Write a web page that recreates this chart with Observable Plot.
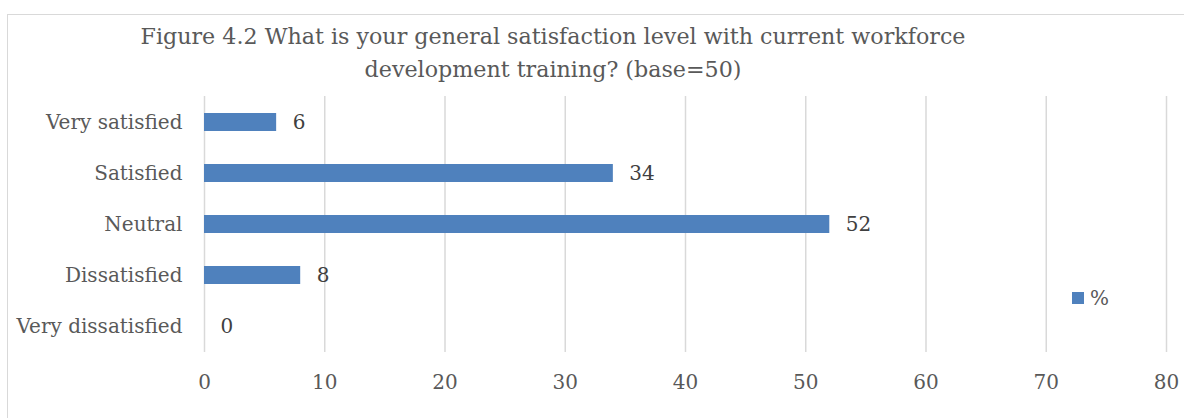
<!DOCTYPE html>
<html><head><meta charset="utf-8">
<script src="https://cdn.jsdelivr.net/npm/d3@7"></script>
<script src="https://cdn.jsdelivr.net/npm/@observablehq/plot@0.6"></script>
<style>
html,body{margin:0;padding:0;background:#fff;}
#wrap{position:relative;width:1184px;height:418px;overflow:hidden;font-family:"DejaVu Serif",serif;color:#595959;}
#frame{position:absolute;left:7px;top:14px;width:1190px;height:420px;border:1px solid #d9d9d9;box-sizing:border-box;}
#title{position:absolute;left:0;width:1106px;top:20px;text-align:center;font-size:22.2px;line-height:33px;color:#595959;}
#legend{position:absolute;left:1072px;top:286px;font-size:20px;color:#595959;display:flex;align-items:center;}
#legend span.sw{display:inline-block;width:12px;height:12px;background:#4F81BD;margin-right:6px;}
#chart{position:absolute;left:0;top:0;}
</style></head>
<body>
<div id="wrap">
<div id="frame"></div>
<div id="title">Figure 4.2 What is your general satisfaction level with current workforce<br>development training? (base=50)</div>
<div id="chart"></div>
<div id="legend"><span class="sw"></span>%</div>
</div>
<script>
const categories = ["Very satisfied","Satisfied","Neutral","Dissatisfied","Very dissatisfied"];
const values = [6,34,52,8,0];
const xTicks = [0,10,20,30,40,50,60,70,80];

const data = categories.map((c,i)=>({category:c,value:values[i]}));

const plot = Plot.plot({
  width:1184, height:418,
  marginTop:96, marginBottom:66, marginLeft:204, marginRight:18,
  style:{fontFamily:"DejaVu Serif, serif", fontSize:"20px", color:"#595959", background:"transparent"},
  x:{domain:[0,80], ticks:xTicks, label:null},
  y:{domain:categories, label:null, paddingInner:0.65, paddingOuter:0.325},
  marks:[
    Plot.gridX(xTicks,{stroke:"#d9d9d9", strokeOpacity:1, strokeWidth:1.5}),
    Plot.barX(data,{x:"value", y:"category", fill:"#4F81BD"}),
    Plot.text(data,{x:"value", y:"category", text:d=>String(d.value), textAnchor:"start", dx:16, fill:"#404040", fontSize:20}),
    Plot.axisX({ticks:xTicks, tickSize:0, tickPadding:22, fontSize:20, fill:"#595959", label:null}),
    Plot.axisY({tickSize:0, tickPadding:22, fontSize:20, fill:"#595959", label:null})
  ]
});
document.getElementById("chart").appendChild(plot);
</script>
</body></html>
